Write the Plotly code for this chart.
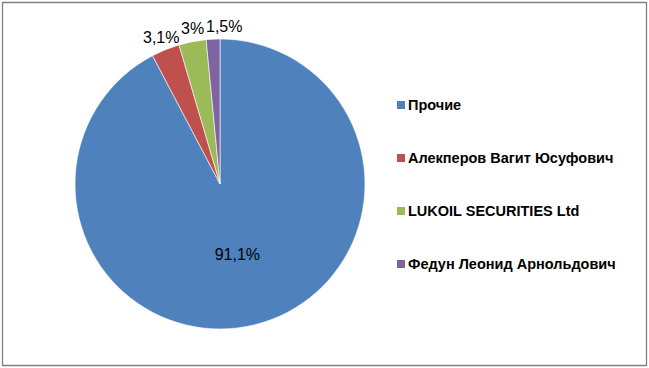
import math
import plotly.graph_objects as go

labels = ["Прочие", "Алекперов Вагит Юсуфович", "LUKOIL SECURITIES Ltd", "Федун Леонид Арнольдович"]
values = [91.1, 3.1, 3.0, 1.5]
label_text = ["91,1%", "3,1%", "3%", "1,5%"]
colors = ["#4F81BD", "#C0504D", "#9BBB59", "#8064A2"]

W, H = 649, 368
CX, CY, R = 220, 184, 145  # pie centre / radius in pixels
FS = 16

fig = go.Figure()
fig.add_trace(go.Pie(
    labels=labels, values=values, text=label_text,
    texttemplate="%{text}", textinfo="text",
    textposition=["inside", "none", "none", "none"],
    insidetextorientation="horizontal",
    textfont=dict(family="Liberation Sans, Arial", size=FS, color="black"),
    marker=dict(colors=colors, line=dict(color="white", width=0.6)),
    sort=False, direction="clockwise", rotation=0,
    showlegend=False, hoverinfo="skip",
    domain=dict(x=[(CX - R) / W, (CX + R) / W], y=[1 - (CY + R) / H, 1 - (CY - R) / H]),
))

# approximate text widths (Arial metrics) for label collision avoidance
char_w = {",": 0.278, "%": 0.889}
def text_width(s):
    return sum(char_w.get(c, 0.556) for c in s) * FS

# outside labels for the small slices, placed along each slice's bisector,
# pushed to the right when they would overlap the previous label
total = sum(values)
cum = 0.0
prev_right = None
for i, (v, t) in enumerate(zip(values, label_text)):
    mid = (cum + v / 2) / total * 2 * math.pi
    cum += v
    if i == 0:
        continue
    rr = R + 13
    px = CX + rr * math.sin(mid)
    py = CY - rr * math.cos(mid)
    w = text_width(t)
    if prev_right is not None and px - w / 2 < prev_right + 2:
        px = prev_right + 2 + w / 2
    prev_right = px + w / 2
    fig.add_annotation(xref="paper", yref="paper", x=px / W, y=1 - py / H,
                       xanchor="center", yanchor="middle", showarrow=False,
                       text=t, font=dict(family="Liberation Sans, Arial", size=FS, color="black"))

# manual legend
leg_x0 = 397
leg_y0 = 105
gap = 53
for i, (lab, col) in enumerate(zip(labels, colors)):
    yc = leg_y0 + i * gap
    fig.add_shape(type="rect", xref="paper", yref="paper",
                  x0=leg_x0 / W, x1=(leg_x0 + 8) / W,
                  y0=1 - (yc + 4) / H, y1=1 - (yc - 4) / H,
                  fillcolor=col, line=dict(width=0))
    fig.add_annotation(xref="paper", yref="paper", x=(leg_x0 + 8.5) / W, y=1 - yc / H,
                       xanchor="left", yanchor="middle", showarrow=False,
                       text="<b>" + lab + "</b>",
                       font=dict(family="Liberation Sans, Arial", size=14.5, color="black"))

# outer border
fig.add_shape(type="rect", xref="paper", yref="paper",
              x0=2.5 / W, x1=646.5 / W, y0=1 - 365.5 / H, y1=1 - 2.5 / H,
              line=dict(color="#808080", width=1.3), fillcolor="rgba(0,0,0,0)")

fig.update_layout(width=W, height=H, margin=dict(l=0, r=0, t=0, b=0),
                  paper_bgcolor="white", plot_bgcolor="white")
fig.write_html("out.html")
